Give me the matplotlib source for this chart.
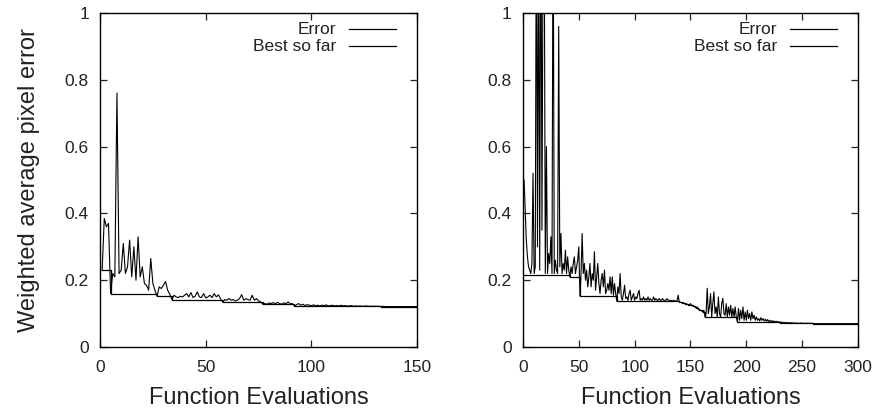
import numpy as np
import matplotlib
matplotlib.use("Agg")
import matplotlib.pyplot as plt
from matplotlib.ticker import FormatStrFormatter

plt.rcParams['font.family'] = ['Liberation Sans', 'DejaVu Sans']

#%% data

# left panel: 150 function evaluations
err_left = [
    0.23, 0.385, 0.36, 0.37, 0.16, 0.22, 0.21, 0.76, 0.22, 0.23,
    0.31, 0.22, 0.24, 0.32, 0.21, 0.30, 0.20, 0.33, 0.21, 0.24,
    0.19, 0.185, 0.17, 0.265, 0.19, 0.17, 0.152, 0.18, 0.175, 0.185,
    0.196, 0.17, 0.158, 0.142, 0.155, 0.15, 0.148, 0.152, 0.15, 0.155,
    0.16, 0.15, 0.163, 0.148, 0.152, 0.165, 0.15, 0.148, 0.16, 0.147,
    0.15, 0.155, 0.148, 0.16, 0.15, 0.156, 0.145, 0.134, 0.142, 0.14,
    0.145, 0.14, 0.142, 0.138, 0.14, 0.145, 0.157, 0.14, 0.145, 0.142,
    0.14, 0.155, 0.14, 0.145, 0.138, 0.135, 0.128, 0.13, 0.128, 0.132,
    0.13, 0.133, 0.129, 0.134, 0.13, 0.128, 0.132, 0.13, 0.135, 0.129,
    0.13, 0.123, 0.127, 0.13, 0.125, 0.128, 0.124, 0.127, 0.125, 0.124,
    0.126, 0.124, 0.125, 0.123, 0.125, 0.124, 0.126, 0.123, 0.124, 0.125,
    0.123, 0.124, 0.123, 0.125, 0.123, 0.124, 0.123, 0.123, 0.124, 0.122,
    0.123, 0.122, 0.123, 0.122, 0.122, 0.123, 0.122, 0.122, 0.122, 0.122,
    0.122, 0.122, 0.121, 0.122, 0.121, 0.121, 0.121, 0.121, 0.121, 0.121,
    0.121, 0.121, 0.121, 0.121, 0.121, 0.121, 0.121, 0.121, 0.121, 0.121,
]
best_left_x = [1, 5, 27, 34, 58, 77, 92, 120, 133, 150]
best_left_y = [0.23, 0.16, 0.152, 0.142, 0.134, 0.128, 0.123, 0.122, 0.121, 0.121]

# right panel: 300 function evaluations
err_right = [
    0.50, 0.41, 0.32, 0.27, 0.24, 0.23, 0.22, 0.25, 0.52, 0.22,
    0.24, 1.40, 0.30, 1.30, 0.23, 1.50, 0.35, 1.20, 1.30, 0.22,
    0.60, 0.22, 0.28, 0.25, 0.33, 0.22, 1.40, 0.22, 0.26, 0.23,
    0.22, 0.96, 0.24, 0.34, 0.22, 0.25, 0.23, 0.29, 0.22, 0.27,
    0.23, 0.21, 0.24, 0.22, 0.25, 0.27, 0.22, 0.24, 0.26, 0.30,
    0.153, 0.22, 0.34, 0.22, 0.25, 0.20, 0.23, 0.18, 0.21, 0.25,
    0.18, 0.22, 0.20, 0.285, 0.17, 0.21, 0.25, 0.19, 0.16, 0.20,
    0.22, 0.18, 0.23, 0.16, 0.17, 0.19, 0.17, 0.21, 0.16, 0.21,
    0.155, 0.19, 0.16, 0.137, 0.18, 0.16, 0.22, 0.15, 0.14, 0.16,
    0.185, 0.145, 0.15, 0.14, 0.16, 0.17, 0.14, 0.15, 0.16, 0.14,
    0.15, 0.145, 0.16, 0.17, 0.14, 0.145, 0.14, 0.15, 0.14, 0.145,
    0.14, 0.15, 0.14, 0.145, 0.14, 0.14, 0.15, 0.14, 0.145, 0.14,
    0.14, 0.145, 0.14, 0.14, 0.145, 0.14, 0.14, 0.14, 0.145, 0.14,
    0.14, 0.138, 0.14, 0.137, 0.14, 0.138, 0.137, 0.14, 0.155, 0.135,
    0.134, 0.133, 0.133, 0.132, 0.13, 0.13, 0.128, 0.127, 0.126, 0.13,
    0.125, 0.123, 0.122, 0.12, 0.118, 0.12, 0.115, 0.112, 0.11, 0.108,
    0.105, 0.11, 0.09, 0.10, 0.176, 0.10, 0.12, 0.16, 0.09, 0.13,
    0.165, 0.10, 0.12, 0.09, 0.15, 0.10, 0.09, 0.13, 0.146, 0.10,
    0.095, 0.13, 0.09, 0.12, 0.095, 0.125, 0.09, 0.115, 0.09, 0.12,
    0.09, 0.076, 0.115, 0.08, 0.11, 0.085, 0.12, 0.08, 0.105, 0.08,
    0.11, 0.085, 0.10, 0.08, 0.105, 0.085, 0.095, 0.08, 0.09, 0.08,
    0.085, 0.078, 0.088, 0.08, 0.085, 0.078, 0.083, 0.077, 0.082, 0.076,
    0.08, 0.076, 0.079, 0.075, 0.078, 0.074, 0.077, 0.074, 0.076, 0.073,
    0.075, 0.073, 0.074, 0.072, 0.074, 0.072, 0.073, 0.072, 0.073, 0.072,
    0.073, 0.071, 0.072, 0.071, 0.072, 0.071, 0.071, 0.071, 0.072, 0.071,
    0.071, 0.071, 0.071, 0.071, 0.071, 0.071, 0.071, 0.071, 0.071, 0.070,
    0.070, 0.070, 0.070, 0.070, 0.070, 0.070, 0.070, 0.070, 0.070, 0.070,
    0.070, 0.070, 0.070, 0.070, 0.070, 0.070, 0.070, 0.070, 0.070, 0.070,
    0.070, 0.070, 0.070, 0.070, 0.070, 0.070, 0.070, 0.070, 0.070, 0.070,
    0.070, 0.070, 0.070, 0.070, 0.070, 0.070, 0.070, 0.070, 0.070, 0.070,
]
best_right_x = [1, 42, 51, 84, 140, 141, 142, 144, 145, 147, 148, 149, 151, 152,
                153, 154, 155, 157, 158, 159, 160, 161, 163, 192, 224, 226, 230,
                234, 242, 260, 300]
best_right_y = [0.215, 0.21, 0.153, 0.137, 0.135, 0.134, 0.133, 0.132, 0.13, 0.128,
                0.127, 0.126, 0.125, 0.123, 0.122, 0.12, 0.118, 0.115, 0.112, 0.11,
                0.108, 0.105, 0.09, 0.076, 0.075, 0.074, 0.073, 0.072, 0.071, 0.070,
                0.070]

xticks_left = [0, 50, 100, 150]
xticks_right = [0, 50, 100, 150, 200, 250, 300]
yticks = [0, 0.2, 0.4, 0.6, 0.8, 1]
legend_labels = ['Error', 'Best so far']

#%%

def panel(fig, rect, err, bx, by, xmax, xticks, ylabel=None):
    ax = fig.add_axes(rect)
    ev = np.arange(1, len(err) + 1)
    ax.plot(ev, err, color='k', lw=0.8)
    ax.plot(bx, by, color='k', lw=0.9, drawstyle='steps-post')
    ax.set_xlim(0, xmax)
    ax.set_ylim(0, 1)
    ax.set_xticks(xticks)
    ax.set_yticks(yticks)
    ax.yaxis.set_major_formatter(FormatStrFormatter('%g'))
    ax.tick_params(direction='in', top=True, right=True, length=5, width=0.9,
                   labelsize=12.5, colors='#222222')
    ax.tick_params(axis='x', pad=9)
    ax.tick_params(axis='y', pad=8)
    for s in ax.spines.values():
        s.set_linewidth(1.0)
    ax.set_xlabel('Function Evaluations', fontsize=17, color='#222222', labelpad=9)
    if ylabel:
        ax.set_ylabel(ylabel, fontsize=17, color='#222222')
        ax.yaxis.set_label_coords(-0.19, 0.5)

    # gnuplot style key: right-justified text, sample line to its right
    w_px = rect[2] * 876
    for i, lab in enumerate(legend_labels):
        yk = 0.952 - i * 0.051
        ax.text(1 - 81 / w_px, yk, lab, transform=ax.transAxes, ha='right',
                va='center', fontsize=12.5, color='#222222')
        ax.plot([1 - 68 / w_px, 1 - 21 / w_px], [yk, yk], transform=ax.transAxes,
                color='k', lw=0.9, clip_on=False)
    return ax


fig = plt.figure(figsize=(8.76, 4.13), dpi=100)
panel(fig, [0.1142, 0.1598, 0.3619, 0.8087], err_left, best_left_x, best_left_y,
      150, xticks_left, ylabel='Weighted average pixel error')
panel(fig, [0.597, 0.1598, 0.3824, 0.8087], err_right, best_right_x, best_right_y,
      300, xticks_right)

fig.savefig('out.png', dpi=100)
